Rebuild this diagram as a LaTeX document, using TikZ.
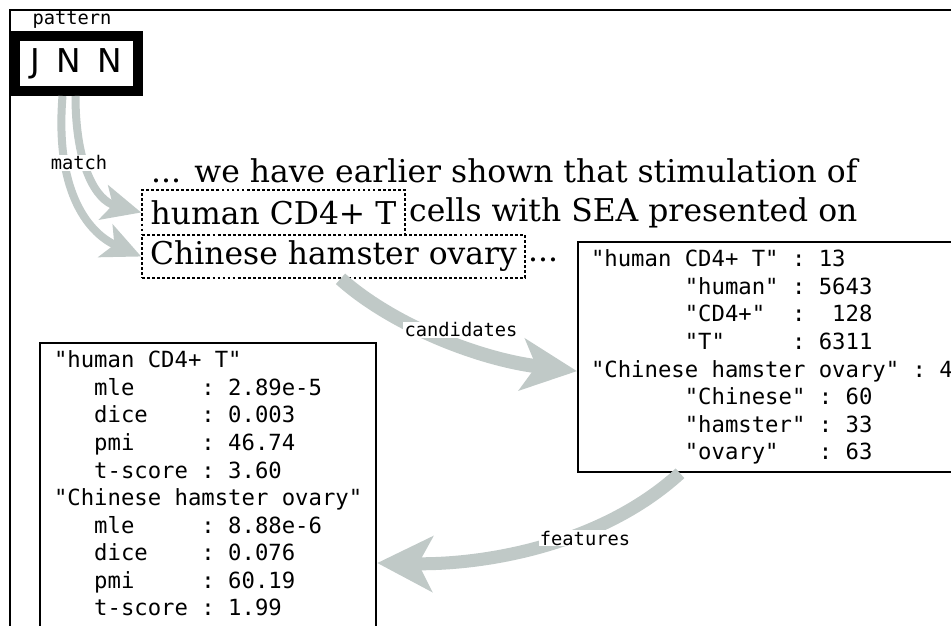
\documentclass[tikz,border=0pt]{standalone}
\usepackage{fontspec}
\setmainfont{DejaVu Serif}
\newfontfamily\monofont{DejaVu Sans Mono}
\newfontfamily\tagfont{DejaVu Sans}
\usetikzlibrary{positioning,arrows.meta,calc}
\newlength\px \setlength\px{0.03cm}
\definecolor{flowgray}{RGB}{192,201,199}
% monospaced text with one space = one character cell
\newcommand\monosetup[1]{\monofont\fontsize{#1}{23.5}\selectfont
  \fontdimen2\font=\fontcharwd\font`0 \fontdimen3\font=0pt \fontdimen4\font=0pt \frenchspacing}
\tikzset{
  prose/.style={inner sep=0pt,font=\fontsize{26.8}{32}\selectfont},
  span/.style={prose,draw,line width=1.6\px,dash pattern=on 2.4pt off 1.9pt},
  jnnbox/.style={draw,line width=10\px,minimum width=123\px,minimum height=55\px,
                 inner sep=0pt,font=\tagfont\fontsize{28}{30}\selectfont},
  databox/.style={draw,line width=2\px,anchor=north west,align=left,inner ysep=8\px,
                  font=\monosetup{19}},
  lbl/.style={fill=white,inner sep=1pt,anchor=base,font=\monosetup{16}},
  flow/.style={draw=flowgray,line width=#1},
}

\begin{document}
\begin{tikzpicture}[x=0.03cm,y=-0.03cm]
  \path[use as bounding box,fill=white] (0,0) rectangle (951,626);
  \clip (0,0) rectangle (951,626);
  \draw[line width=2\px] (951,10) -- (10,10) -- (10,626);

  % ===== pattern =====
  \node[lbl,fill=none] (patlbl) at (72,25) {pattern};
  \node[jnnbox] (jnn) at (76.5,63.5) {J\enskip N\enskip N};

  % ===== sentence with matched spans =====
  \node[prose,anchor=base west] (line1) at (151,183) {... we have earlier shown that stimulation of};
  \node[span,minimum width=263\px,minimum height=45\px] (cand1) at (273.5,212.5) {human CD4+ T};
  \node[prose,anchor=base west] (line2) at (409,222) {cells with SEA presented on};
  \node[span,minimum width=383\px,minimum height=43\px] (cand2) at (333.5,256.5) {Chinese hamster ovary};
  \node[prose,anchor=base west] (dots) at (528,262) {...};

  % ===== frequency counts =====
  \node[databox,inner xsep=13\px] (counts) at (577,241)
    {\makebox[420\px][l]{"human CD4+ T" : 13}\\
     ~~~~~~~"human" : 5643\\
     ~~~~~~~"CD4+"~~:~~128\\
     ~~~~~~~"T"~~~~~: 6311\\
     "Chinese hamster ovary" : 4\\
     ~~~~~~~"Chinese" : 60\\
     ~~~~~~~"hamster" : 33\\
     ~~~~~~~"ovary"~~~: 63};

  % ===== association scores =====
  \node[databox,inner xsep=14\px] (scores) at (39,342)
    {\makebox[303\px][l]{"human CD4+ T"}\\
     ~~~mle~~~~~: 2.89e-5\\
     ~~~dice~~~~: 0.003\\
     ~~~pmi~~~~~: 46.74\\
     ~~~t-score : 3.60\\
     "Chinese hamster ovary"\\
     ~~~mle~~~~~: 8.88e-6\\
     ~~~dice~~~~: 0.076\\
     ~~~pmi~~~~~: 60.19\\
     ~~~t-score : 1.99\rule[-30pt]{0pt}{0pt}};

  % ===== flows =====
  \draw[flow=8\px,-{Stealth[length=33pt,width=30pt,inset=8pt]}]
    ($(jnn.south)+(-1,0)$) .. controls +(0,70) and +(-45,-12) .. (cand1.west);
  \draw[flow=8\px,-{Stealth[length=33pt,width=30pt,inset=8pt]}]
    ($(jnn.south)+(-14,0)$) .. controls +(-8,100) and +(-50,-22) .. (cand2.west);
  \draw[flow=14\px,-{Stealth[length=47pt,width=44pt,inset=12pt]}]
    ($(cand2.south)+(7,0)$) .. controls +(50,45) and +(-100,-12) .. ($(counts.west)+(0,14)$);
  \draw[flow=13\px,-{Stealth[length=47pt,width=47pt,inset=12pt]}]
    ($(counts.south west)+(103,0)$) .. controls +(-80,73) and +(105,2) .. ($(scores.north east)+(0,221)$);

  \node[lbl] (matchlbl) at (79,170) {match};
  \node[lbl] (candlbl) at (461,337) {candidates};
  \node[lbl] (featlbl) at (585,545) {features};
\end{tikzpicture}
\end{document}
